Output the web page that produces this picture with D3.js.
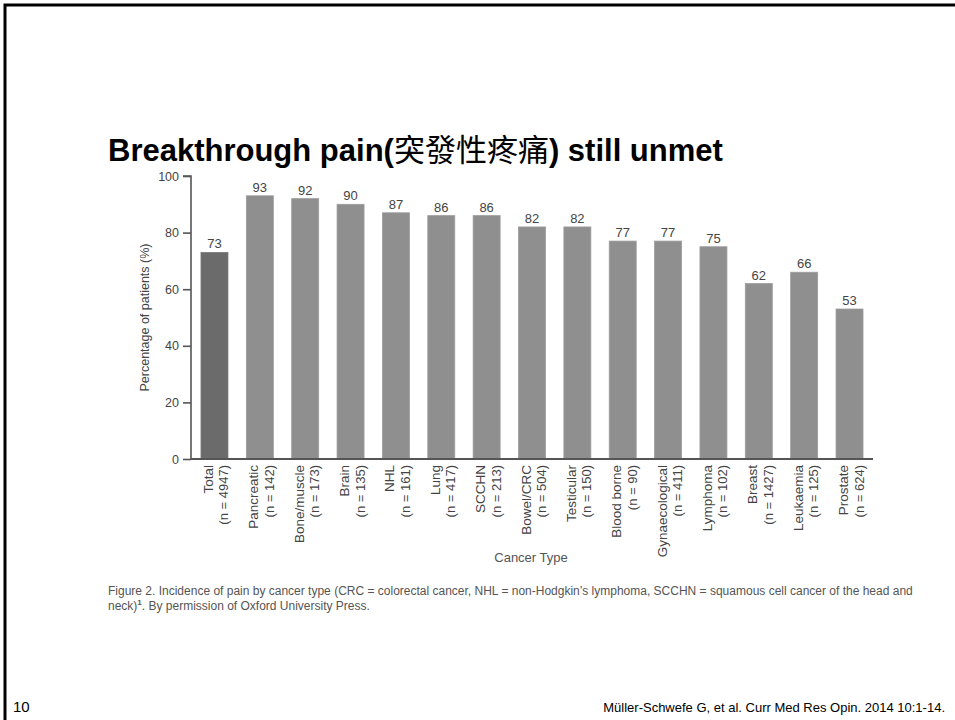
<!DOCTYPE html>
<html lang="en">
<head>
<meta charset="utf-8">
<script src="https://d3js.org/d3.v7.min.js"></script>
<style>
  body { margin: 0; background: #fff; }
  svg text { font-family: "Liberation Sans", Arial, sans-serif; }
</style>
</head>
<body>
<script>
// chart values
var categories = ["Total", "Pancreatic", "Bone/muscle", "Brain", "NHL", "Lung", "SCCHN", "Bowel/CRC",
                  "Testicular", "Blood borne", "Gynaecological", "Lymphoma", "Breast", "Leukaemia", "Prostate"];
var patientCounts = [4947, 142, 173, 135, 161, 417, 213, 504, 150, 90, 411, 102, 1427, 125, 624];
var percentages = [73, 93, 92, 90, 87, 86, 86, 82, 82, 77, 77, 75, 62, 66, 53];
var yTicks = [0, 20, 40, 60, 80, 100];

var width = 955, height = 720;

var svg = d3.select("body").append("svg")
    .attr("width", width)
    .attr("height", height);

// slide frame (top + left)
svg.append("path")
    .attr("d", "M5,720 V5 H955")
    .attr("fill", "none")
    .attr("stroke", "#000")
    .attr("stroke-width", 3);

// title
var title = svg.append("text")
    .attr("x", 108)
    .attr("y", 161)
    .attr("font-size", 31)
    .attr("font-weight", "bold")
    .attr("fill", "#000");
title.append("tspan").text("Breakthrough pain(");
title.append("tspan").attr("font-weight", "normal")
    .style("font-family", "'Noto Sans CJK TC', sans-serif")
    .attr("font-size", 31).text("突發性疼痛");
title.append("tspan").text(") still unmet");

var x = d3.scaleBand()
    .domain(categories)
    .range([191, 873])
    .paddingInner(0.405)
    .paddingOuter(0.22);

var y = d3.scaleLinear()
    .domain([0, 100])
    .range([459, 176]);

// bars
svg.selectAll("rect.bar")
    .data(categories)
    .enter()
    .append("rect")
    .attr("class", "bar")
    .attr("x", function(d) { return x(d); })
    .attr("y", function(d, i) { return y(percentages[i]); })
    .attr("width", x.bandwidth())
    .attr("height", function(d, i) { return y(0) - y(percentages[i]); })
    .attr("fill", function(d, i) { return i === 0 ? "#6b6b6b" : "#8f8f8f"; })
    .attr("stroke", function(d, i) { return i === 0 ? "#7a7a7a" : "#9c9c9c"; })
    .attr("stroke-width", 0.8);

// value labels
svg.selectAll("text.val")
    .data(categories)
    .enter()
    .append("text")
    .attr("class", "val")
    .attr("x", function(d) { return x(d) + x.bandwidth() / 2; })
    .attr("y", function(d, i) { return y(percentages[i]) - 4; })
    .attr("text-anchor", "middle")
    .attr("font-size", 13)
    .attr("fill", "#444")
    .text(function(d, i) { return percentages[i]; });

// y axis
var yAxis = svg.append("g")
    .attr("transform", "translate(191,0)")
    .call(d3.axisLeft(y).tickValues(yTicks).tickSize(8).tickPadding(4));
yAxis.select(".domain").attr("stroke", "#555").attr("stroke-width", 1.6)
    .attr("d", "M-8," + y(100) + "H0V" + y(0));
yAxis.selectAll(".tick line").attr("stroke", "#555").attr("stroke-width", 1.6);
yAxis.selectAll(".tick text")
    .attr("font-size", 12.5)
    .attr("fill", "#444")
    .style("font-family", "'Liberation Sans', Arial, sans-serif");

// x axis baseline
svg.append("line")
    .attr("x1", 191).attr("x2", 873)
    .attr("y1", y(0)).attr("y2", y(0))
    .attr("stroke", "#555")
    .attr("stroke-width", 2);

// x tick labels (rotated, two lines)
var xl = svg.selectAll("g.xlab")
    .data(categories)
    .enter()
    .append("g")
    .attr("class", "xlab")
    .attr("transform", function(d) {
        return "translate(" + (x(d) + x.bandwidth() / 2) + "," + (y(0) + 6) + ") rotate(-90)";
    });
xl.append("text")
    .attr("x", 0).attr("y", -1.5)
    .attr("text-anchor", "end")
    .attr("font-size", 13.5)
    .attr("fill", "#444")
    .text(function(d) { return d; });
xl.append("text")
    .attr("x", 0).attr("y", 14)
    .attr("text-anchor", "end")
    .attr("font-size", 13)
    .attr("fill", "#444")
    .text(function(d, i) { return "(n = " + patientCounts[i] + ")"; });

// axis titles
svg.append("text")
    .attr("transform", "translate(149," + ((y(0) + y(100)) / 2) + ") rotate(-90)")
    .attr("text-anchor", "middle")
    .attr("font-size", 12.5)
    .attr("fill", "#444")
    .text("Percentage of patients (%)");

svg.append("text")
    .attr("x", 531)
    .attr("y", 562)
    .attr("text-anchor", "middle")
    .attr("font-size", 13)
    .attr("fill", "#555")
    .text("Cancer Type");

// caption
var cap = svg.append("text")
    .attr("font-size", 12)
    .attr("fill", "#555");
cap.append("tspan").attr("x", 108).attr("y", 595)
    .text("Figure 2.  Incidence of pain by cancer type (CRC = colorectal cancer, NHL = non-Hodgkin\u2019s lymphoma, SCCHN = squamous cell cancer of the head and");
var l2 = cap.append("tspan").attr("x", 108).attr("y", 610);
l2.append("tspan").text("neck)");
l2.append("tspan").attr("font-size", 8).attr("font-weight", "bold").attr("dy", -5).text("1");
l2.append("tspan").attr("dy", 5).text(". By permission of Oxford University Press.");

// footer
svg.append("text")
    .attr("x", 13)
    .attr("y", 712)
    .attr("font-size", 15)
    .attr("fill", "#000")
    .text("10");

svg.append("text")
    .attr("x", 945)
    .attr("y", 712)
    .attr("text-anchor", "end")
    .attr("font-size", 13)
    .attr("fill", "#000")
    .text("Müller-Schwefe G, et al. Curr Med Res Opin. 2014 10:1-14.");
</script>
</body>
</html>
